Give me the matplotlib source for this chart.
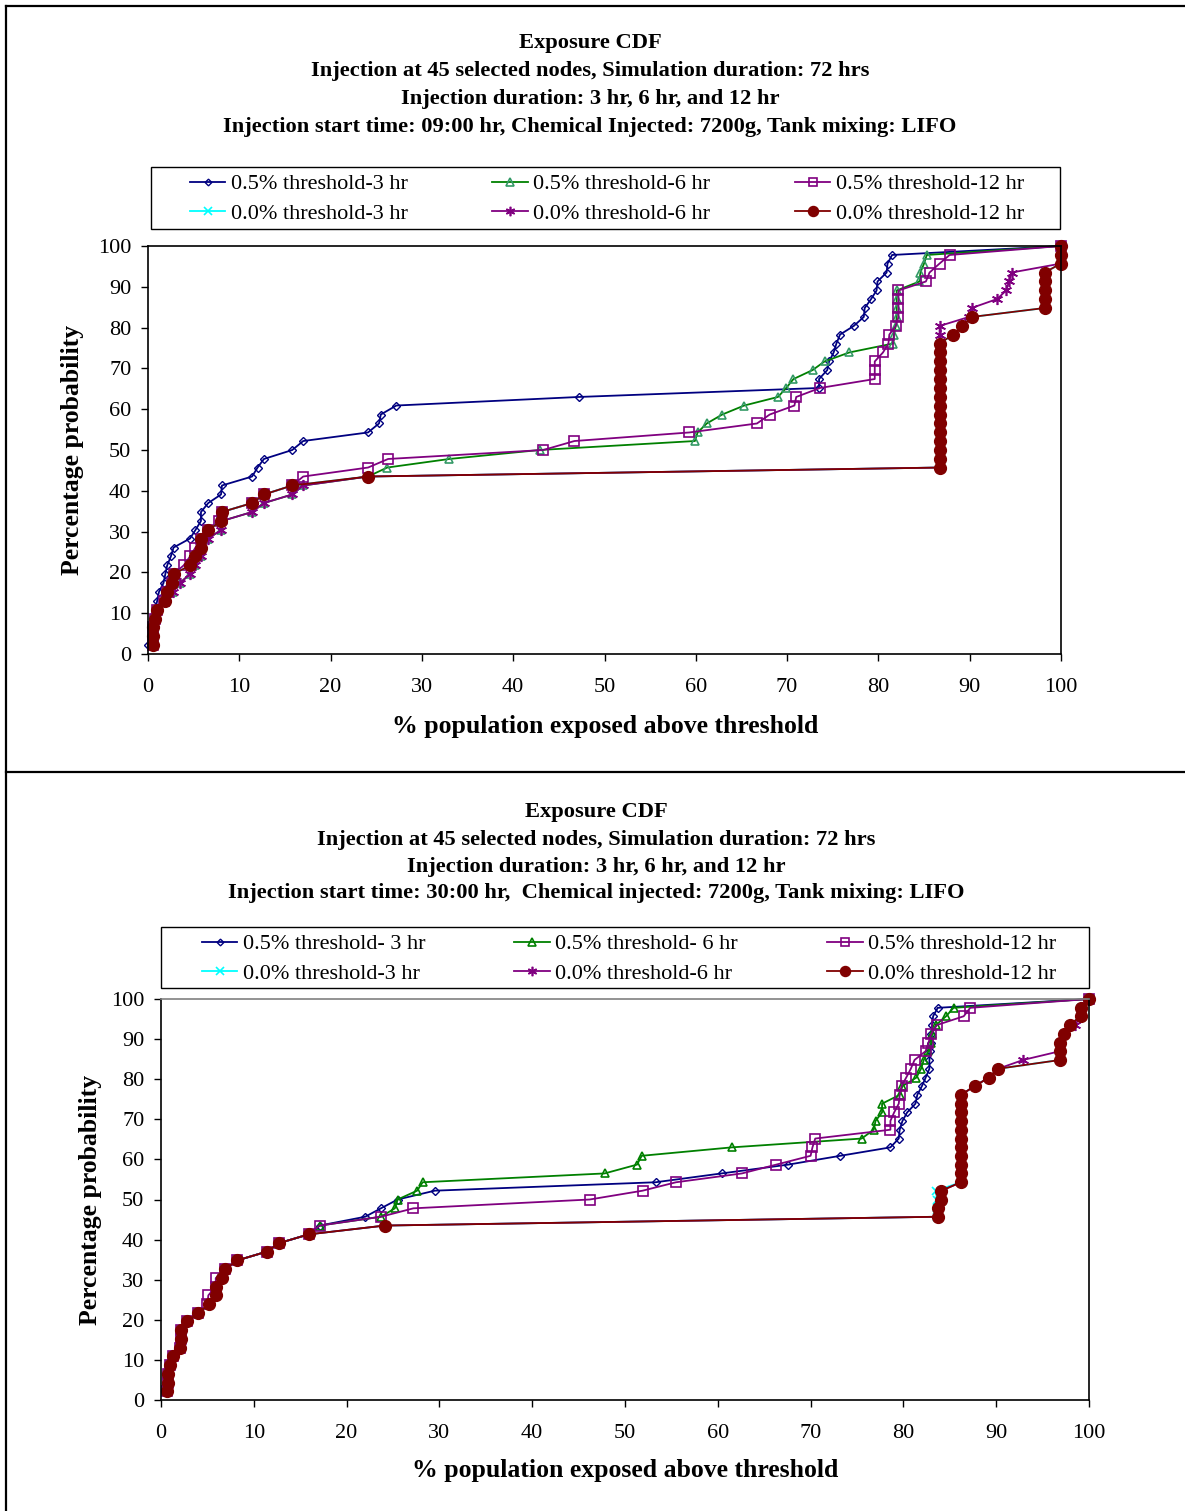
import matplotlib
matplotlib.use("Agg")
import matplotlib.pyplot as plt
from matplotlib.lines import Line2D
from matplotlib.patches import Rectangle

plt.rcParams["font.family"] = "Liberation Serif"

# Percentage probability levels (CDF steps, 46 points)
levels = [2.2, 4.3, 6.5, 8.7, 10.9, 13.0, 15.2, 17.4, 19.6, 21.7,
          23.9, 26.1, 28.3, 30.4, 32.6, 34.8, 37.0, 39.1, 41.3, 43.5,
          45.7, 47.8, 50.0, 52.2, 54.3, 56.5, 58.7, 60.9, 63.0, 65.2,
          67.4, 69.6, 71.7, 73.9, 76.1, 78.3, 80.4, 82.6, 84.8, 87.0,
          89.1, 91.3, 93.5, 95.7, 97.8, 100.0]

# Panel 1: injection start 09:00 hr  (% population exposed above threshold)
a_b3 = [0.0, 0.3, 0.5, 0.6, 0.8, 1.0, 1.2, 1.7, 1.9, 2.1,
        2.5, 2.8, 4.6, 5.2, 5.8, 5.8, 6.6, 8.0, 8.1, 11.4,
        12.0, 12.7, 15.8, 17.0, 24.1, 25.3, 25.5, 27.2, 47.2, 73.5,
        73.5, 74.4, 74.6, 75.1, 75.4, 75.8, 77.3, 78.4, 78.5, 79.2,
        79.8, 79.9, 80.9, 81.0, 81.5, 100.0]
a_g6 = [0.5, 0.6, 0.6, 0.8, 1.0, 1.9, 2.7, 3.5, 4.6, 5.2,
        5.8, 5.8, 6.6, 8.0, 8.1, 11.4, 12.7, 15.8, 17.0, 24.1,
        26.2, 33.0, 42.9, 59.9, 60.2, 61.2, 62.9, 65.3, 69.0, 69.9,
        70.7, 72.8, 74.1, 76.8, 81.6, 81.7, 81.9, 82.0, 82.0, 82.0,
        82.0, 84.5, 84.6, 85.0, 85.3, 100.0]
a_p12 = [0.5, 0.6, 0.6, 0.8, 1.0, 1.7, 2.1, 2.6, 2.8, 3.9,
         4.6, 5.2, 5.8, 6.6, 7.8, 8.1, 11.4, 12.7, 15.8, 17.0,
         24.1, 26.3, 43.3, 46.7, 59.3, 66.7, 68.1, 70.8, 71.0, 73.6,
         79.6, 79.6, 79.6, 80.5, 81.1, 81.2, 81.9, 82.2, 82.2, 82.2,
         82.2, 85.2, 85.6, 86.7, 87.8, 100.0]
a_c3 = [0.5, 0.6, 0.6, 0.8, 1.0, 1.9, 2.1, 2.6, 2.8, 4.6,
        5.2, 5.8, 5.8, 6.6, 8.0, 8.1, 11.4, 12.7, 15.8, 24.1,
        86.7, 86.7, 86.7, 86.7, 86.7, 86.7, 86.7, 86.7, 86.7, 86.7,
        86.7, 86.7, 86.7, 86.7, 86.7, 88.2, 89.2, 90.2, 98.2, 98.2,
        98.2, 98.2, 98.2, 100.0, 100.0, 100.0]
a_p6 = [0.5, 0.6, 0.6, 0.8, 1.0, 1.9, 2.7, 3.5, 4.6, 5.2,
        5.8, 5.8, 6.6, 8.0, 8.1, 11.4, 12.7, 15.8, 17.0, 24.1,
        86.7, 86.7, 86.7, 86.7, 86.7, 86.7, 86.7, 86.7, 86.7, 86.7,
        86.7, 86.7, 86.7, 86.7, 86.7, 86.7, 86.7, 89.9, 90.2, 93.0,
        94.0, 94.3, 94.6, 100.0, 100.0, 100.0]
a_r12 = [0.5, 0.6, 0.6, 0.8, 1.0, 1.9, 2.1, 2.6, 2.8, 4.6,
         5.2, 5.8, 5.8, 6.6, 8.0, 8.1, 11.4, 12.7, 15.8, 24.1,
         86.7, 86.7, 86.7, 86.7, 86.7, 86.7, 86.7, 86.7, 86.7, 86.7,
         86.7, 86.7, 86.7, 86.7, 86.7, 88.2, 89.2, 90.2, 98.2, 98.2,
         98.2, 98.2, 98.2, 100.0, 100.0, 100.0]

# Panel 2: injection start 30:00 hr
b_b3 = [0.6, 0.8, 0.8, 1.0, 1.3, 2.0, 2.2, 2.2, 2.8, 4.0,
        5.2, 5.9, 5.9, 6.6, 6.9, 8.2, 11.4, 12.7, 15.9, 17.1,
        22.0, 23.7, 25.5, 29.5, 53.3, 60.4, 67.6, 73.2, 78.6, 79.5,
        79.6, 79.9, 80.4, 81.3, 81.5, 82.0, 82.4, 82.8, 82.8, 82.9,
        83.0, 83.0, 83.1, 83.2, 83.7, 100.0]
b_g6 = [0.6, 0.8, 0.8, 1.0, 1.3, 2.0, 2.2, 2.2, 2.8, 4.0,
        5.2, 5.9, 5.9, 6.6, 6.9, 8.2, 11.4, 12.7, 15.9, 17.1,
        23.7, 25.2, 25.5, 27.6, 28.2, 47.8, 51.3, 51.8, 61.5, 75.5,
        76.8, 77.0, 77.7, 77.7, 79.6, 79.9, 81.4, 81.9, 82.2, 82.7,
        83.0, 83.1, 83.5, 84.6, 85.4, 100.0]
b_p12 = [0.6, 0.8, 0.8, 1.0, 1.3, 2.0, 2.2, 2.2, 2.8, 4.0,
         5.0, 5.1, 5.9, 5.9, 6.9, 8.2, 11.4, 12.7, 15.9, 17.1,
         23.7, 27.2, 46.2, 51.9, 55.5, 62.6, 66.3, 70.0, 70.2, 70.5,
         78.6, 78.6, 79.0, 79.5, 79.6, 79.8, 80.3, 80.8, 81.2, 82.4,
         82.7, 83.0, 83.6, 86.5, 87.2, 100.0]
b_c3 = [0.6, 0.8, 0.8, 1.0, 1.3, 2.0, 2.2, 2.2, 2.8, 4.0,
        5.2, 5.9, 5.9, 6.6, 6.9, 8.2, 11.4, 12.7, 15.9, 24.1,
        83.6, 83.6, 83.6, 83.5, 86.2, 86.2, 86.2, 86.2, 86.2, 86.2,
        86.2, 86.2, 86.2, 86.2, 86.2, 87.7, 89.2, 90.2, 96.9, 96.9,
        96.9, 97.3, 97.9, 99.1, 99.1, 100.0]
b_p6 = [0.6, 0.8, 0.8, 1.0, 1.3, 2.0, 2.2, 2.2, 2.8, 4.0,
        5.2, 5.9, 5.9, 6.6, 6.9, 8.2, 11.4, 12.7, 15.9, 24.1,
        83.7, 83.7, 84.1, 84.1, 86.2, 86.2, 86.2, 86.2, 86.2, 86.2,
        86.2, 86.2, 86.2, 86.2, 86.2, 87.7, 89.2, 90.2, 92.9, 96.9,
        96.9, 97.3, 98.5, 99.1, 99.1, 100.0]
b_r12 = [0.6, 0.8, 0.8, 1.0, 1.3, 2.0, 2.2, 2.2, 2.8, 4.0,
         5.2, 5.9, 5.9, 6.6, 6.9, 8.2, 11.4, 12.7, 15.9, 24.1,
         83.7, 83.7, 84.1, 84.1, 86.2, 86.2, 86.2, 86.2, 86.2, 86.2,
         86.2, 86.2, 86.2, 86.2, 86.2, 87.7, 89.2, 90.2, 96.9, 96.9,
         96.9, 97.3, 97.9, 99.1, 99.1, 100.0]

labels_a = ["0.5% threshold-3 hr", "0.5% threshold-6 hr", "0.5% threshold-12 hr",
            "0.0% threshold-3 hr", "0.0% threshold-6 hr", "0.0% threshold-12 hr"]
labels_b = ["0.5% threshold- 3 hr", "0.5% threshold- 6 hr", "0.5% threshold-12 hr",
            "0.0% threshold-3 hr", "0.0% threshold-6 hr", "0.0% threshold-12 hr"]

titles_a = ["Exposure CDF",
            "Injection at 45 selected nodes, Simulation duration: 72 hrs",
            "Injection duration: 3 hr, 6 hr, and 12 hr",
            "Injection start time: 09:00 hr, Chemical Injected: 7200g, Tank mixing: LIFO"]
titles_b = ["Exposure CDF",
            "Injection at 45 selected nodes, Simulation duration: 72 hrs",
            "Injection duration: 3 hr, 6 hr, and 12 hr",
            "Injection start time: 30:00 hr,  Chemical injected: 7200g, Tank mixing: LIFO"]

W, H = 1185, 1511


def fig_rect(x0, y0, x1, y1):
    # pixel box -> figure fraction [left, bottom, width, height]
    return [x0 / W, 1 - y1 / H, (x1 - x0) / W, (y1 - y0) / H]


asterisk = (6, 2, 0)

fig = plt.figure(figsize=(W / 100, H / 100), dpi=100)

panels = [
    dict(data=[a_b3, a_g6, a_p12, a_c3, a_p6, a_r12], labels=labels_a, titles=titles_a,
         ax=(148, 246, 1061, 654), title_x=590, title_y=[43, 71, 99, 127],
         leg_box=(151, 167, 1060, 229), leg_c=(607, 199), colsp=3.8,
         ylab=(73, 450), xlab=(605, 727), tri_edge="#339966", top_spine="black"),
    dict(data=[b_b3, b_g6, b_p12, b_c3, b_p6, b_r12], labels=labels_b, titles=titles_b,
         ax=(161, 999, 1089, 1400), title_x=596, title_y=[812, 840, 867, 893],
         leg_box=(161, 927, 1089, 988), leg_c=(629, 959), colsp=4.0,
         ylab=(91, 1200), xlab=(625, 1471), tri_edge="#008000", top_spine="#808080"),
]

for p in panels:
    ax = fig.add_axes(fig_rect(*p["ax"]))
    styles = [
        dict(color="#000080", marker="D", ms=4, mfc="none", mec="#000080", mew=1.0),
        dict(color="#008000", marker="^", ms=6, mfc="none", mec=p["tri_edge"], mew=1.2),
        dict(color="#800080", marker="s", ms=6.5, mfc="none", mec="#800080", mew=1.2),
        dict(color="#00FFFF", marker="x", ms=6, mec="#00FFFF", mew=1.2),
        dict(color="#800080", marker=asterisk, ms=8, mec="#800080", mew=1.2),
        dict(color="#800000", marker="o", ms=8.5, mfc="#800000", mec="#800000"),
    ]
    for xs, lab, st in zip(p["data"], p["labels"], styles):
        ax.plot(xs, levels, label=lab, lw=1.3, clip_on=False, **st)

    ax.set_xlim(0, 100)
    ax.set_ylim(0, 100)
    ax.set_xticks(range(0, 101, 10))
    ax.set_yticks(range(0, 101, 10))
    ax.tick_params(axis="both", direction="out", length=5, width=1, labelsize=16)
    ax.tick_params(axis="x", pad=12)
    ax.tick_params(axis="y", pad=7)
    for s in ax.spines.values():
        s.set_linewidth(1.2)
    ax.spines["top"].set_color(p["top_spine"])

    # legend, column-major order
    h, l = ax.get_legend_handles_labels()
    order = [0, 3, 1, 4, 2, 5]
    ax.legend([h[i] for i in order], [l[i] for i in order], ncol=3, loc="center",
              bbox_to_anchor=(p["leg_c"][0] / W, 1 - p["leg_c"][1] / H),
              bbox_transform=fig.transFigure, frameon=False, fontsize=16,
              handlelength=1.6, handletextpad=0.25, columnspacing=p["colsp"],
              labelspacing=0.42, borderpad=0, markerscale=0.85)
    lx0, ly0, lx1, ly1 = p["leg_box"]
    r = fig_rect(lx0, ly0, lx1, ly1)
    fig.add_artist(Rectangle((r[0], r[1]), r[2], r[3], transform=fig.transFigure,
                             fill=False, edgecolor="black", lw=1))

    # titles and axis labels
    for t, ty in zip(p["titles"], p["title_y"]):
        fig.text(p["title_x"] / W, 1 - ty / H, t, ha="center", va="center",
                 fontsize=16.2, fontweight="bold")
    fig.text(p["ylab"][0] / W, 1 - p["ylab"][1] / H, "Percentage probability",
             rotation=90, ha="center", va="center", fontsize=18.5, fontweight="bold")
    fig.text(p["xlab"][0] / W, 1 - p["xlab"][1] / H, "% population exposed above threshold",
             ha="center", va="center", fontsize=18.5, fontweight="bold")

# chart frames
for xs, ys in [([6, W], [6, 6]), ([6, 6], [6, H]), ([6, W], [772, 772])]:
    fig.add_artist(Line2D([x / W for x in xs], [1 - y / H for y in ys],
                          transform=fig.transFigure, color="black", lw=1.6))

fig.savefig("out.png", dpi=100)
